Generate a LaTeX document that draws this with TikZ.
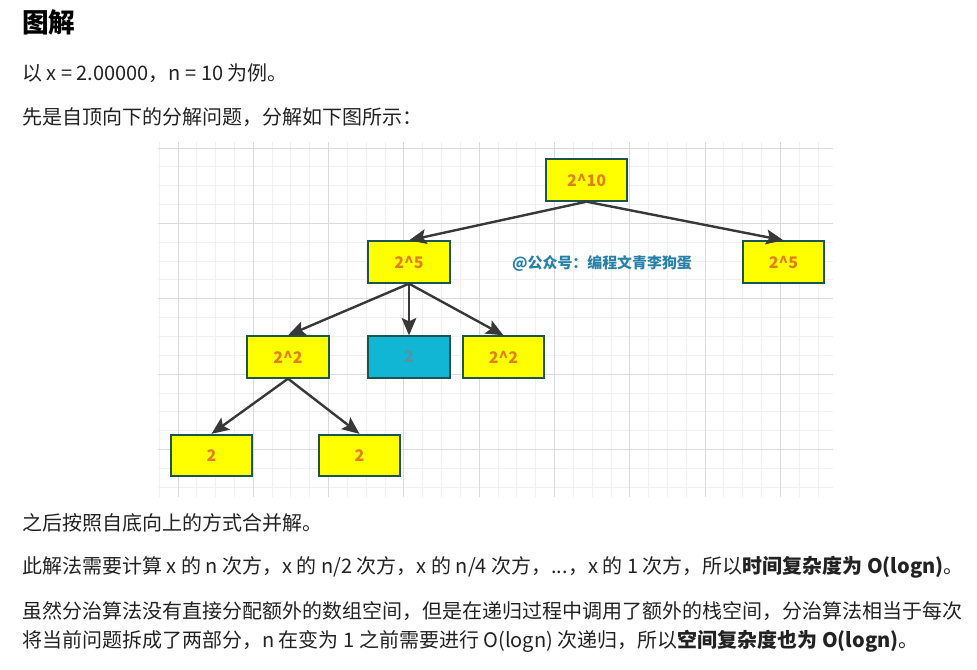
\documentclass[tikz,border=0pt]{standalone}
\usepackage{fontspec}
\setmainfont{Noto Sans CJK SC}
\usetikzlibrary{arrows.meta}

\definecolor{boxyellow}{RGB}{255,255,0}
\definecolor{boxblue}{RGB}{16,182,212}
\definecolor{boxedge}{RGB}{28,84,80}
\definecolor{numorange}{RGB}{226,128,30}
\definecolor{marktext}{RGB}{38,128,168}
\definecolor{bodytext}{RGB}{34,34,34}
\definecolor{gridminor}{RGB}{240,240,240}
\definecolor{gridmajor}{RGB}{218,218,218}

\begin{document}
\begin{tikzpicture}[
        x=0.75pt, y=-0.75pt,
        box/.style={rectangle, draw=boxedge, line width=1.5pt, fill=boxyellow, minimum width=61pt, minimum height=31pt, inner sep=0pt, text=numorange, font=\fontsize{12}{14}\selectfont\bfseries},
        arrow/.style={-{Stealth[length=13pt, width=11pt, inset=2.5pt]}, line width=1.8pt, draw=black!78},
        para/.style={anchor=west, inner sep=0pt, text=bodytext, font=\fontsize{15}{18}\selectfont}
    ]
        \useasboundingbox (0,0) rectangle (977,669);

        % Heading and intro
        \node[para, text=black, font=\fontsize{20}{24}\selectfont\bfseries] (title) at (22,22) {图解};
        \node[para] (intro) at (22,73) {以 x = 2.00000，n = 10 为例。};
        \node[para] (lead) at (22,117) {先是自顶向下的分解问题，分解如下图所示：};

        % Grid paper behind the tree
        \begin{scope}
            \clip (158,142) rectangle (833,497);
            \foreach \i in {0,...,36} \draw[gridminor, line width=0.75pt] ({159.2+18.825*\i},142) -- ++(0,355);
            \foreach \i in {0,...,18} \draw[gridminor, line width=0.75pt] (158,{148+18.85*\i}) -- ++(675,0);
            \foreach \i in {0,...,8} \draw[gridmajor, line width=0.75pt] ({178+75.3*\i},142) -- ++(0,355);
            \foreach \i in {0,...,4} \draw[gridmajor, line width=0.75pt] (158,{148+75.4*\i}) -- ++(675,0);
        \end{scope}

        % Recursion tree
        \node[box] (p10) at (586.5,180) {2\^{}10};
        \node[box] (p5a) at (409,262) {2\^{}5};
        \node[box] (p5b) at (783.5,262) {2\^{}5};
        \node[box] (p2a) at (288,357) {2\^{}2};
        \node[box, fill=boxblue, text=gray!70!boxblue] (odd) at (409,357) {2};
        \node[box] (p2b) at (503.5,357) {2\^{}2};
        \node[box] (p1a) at (211.5,455.5) {2};
        \node[box] (p1b) at (359.5,455.5) {2};
        \node[text=marktext, font=\fontsize{11.2}{13}\selectfont\bfseries] (mark) at (602,263) {@公众号：编程文青李狗蛋};

        % Arrows down
        \draw[arrow] (p10.south) -- (p5a.north);
        \draw[arrow] (p10.south) -- (p5b.north);
        \draw[arrow] (p5a.south) -- (p2a.north);
        \draw[arrow] (p5a.south) -- (odd.north);
        \draw[arrow] (p5a.south) -- (p2b.north);
        \draw[arrow] (p2a.south) -- (p1a.north);
        \draw[arrow] (p2a.south) -- (p1b.north);

        % Closing text
        \node[para] (merge) at (22,523) {之后按照自底向上的方式合并解。};
        \node[para] (time) at (22,567) {此解法需要计算 x 的 n 次方，x 的 n/2 次方，x 的 n/4 次方，...，x 的 1 次方，所以\textbf{时间复杂度为 O(logn)}。};
        \node[para] (space1) at (22,611) {虽然分治算法没有直接分配额外的数组空间，但是在递归过程中调用了额外的栈空间，分治算法相当于每次};
        \node[para] (space2) at (22,641) {将当前问题拆成了两部分，n 在变为 1 之前需要进行 O(logn) 次递归，所以\textbf{空间复杂度也为 O(logn)}。};

    \end{tikzpicture}
\end{document}
